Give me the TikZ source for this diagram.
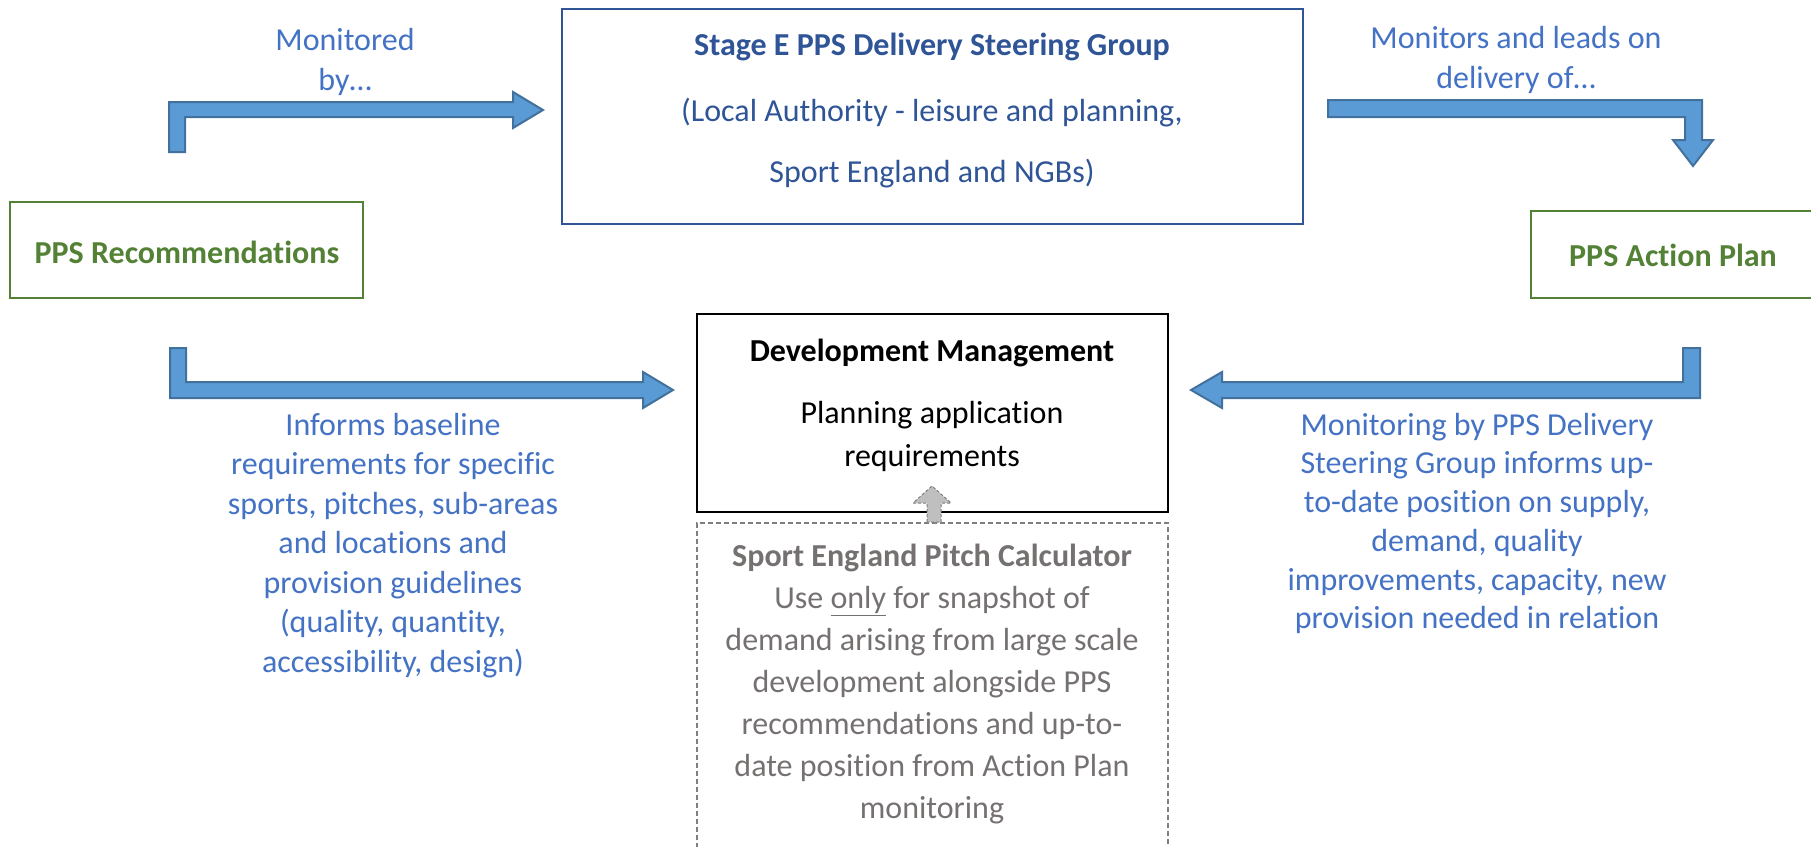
\documentclass[tikz,border=0pt]{standalone}
\usepackage{fontspec}
\setmainfont{Carlito}[Ligatures={NoCommon,NoContextual},RawFeature=-calt]
\definecolor{arrowfill}{HTML}{5B9BD5}
\definecolor{arrowline}{HTML}{41719C}
\definecolor{labelblue}{HTML}{4472C4}
\definecolor{darkblue}{HTML}{2F5597}
\definecolor{boxgreen}{HTML}{538135}
\definecolor{graytext}{HTML}{767171}
\definecolor{dashgray}{HTML}{7F7F7F}
\newcommand\myfs[1]{\fontsize{32}{#1}\selectfont}
\tikzset{
  blockarrow/.style={fill=arrowfill,draw=arrowline,line width=2pt,line join=miter},
  greybox/.style={draw=boxgreen,line width=2.5pt,minimum width=353pt,minimum height=96pt,inner sep=0pt},
  lbl/.style={text=labelblue,align=center,inner sep=0pt},
  txt/.style={inner sep=0pt,align=center}
}
\begin{document}
\begin{tikzpicture}[x=1pt,y=-1pt]
\useasboundingbox (0,0) rectangle (1811,846);
% boxes
\node[draw=darkblue,line width=2pt,minimum width=741pt,minimum height=215pt] (steer) at (932.5,116.5) {};
\node[txt,text=darkblue,font=\myfs{39}\bfseries] (steerT) at (932,47) {Stage E PPS Delivery Steering Group};
\node[txt,text=darkblue,font=\myfs{39}] (steerA) at (932,113) {(Local Authority - leisure and planning,};
\node[txt,text=darkblue,font=\myfs{39}] (steerB) at (932,174) {Sport England and NGBs)};

\node[greybox] (rec) at (186.5,250) {};
\node[txt,text=boxgreen,font=\myfs{39}\bfseries] (recT) at (187,252) {PPS Recommendations};
\node[greybox,minimum width=285pt,minimum height=87pt] (act) at (1673.5,254.5) {};
\node[txt,text=boxgreen,font=\myfs{39}\bfseries] (actT) at (1673,255) {PPS Action Plan};

\node[draw=black,line width=2.5pt,minimum width=471pt,minimum height=198pt] (dev) at (932.5,413) {};
\node[txt,font=\myfs{39}\bfseries] (devT) at (932,353) {Development Management};
\node[txt,font=\myfs{43}] (devB) at (932,436) {Planning application\\requirements};

\node[draw=dashgray,line width=1.5pt,dash pattern=on 5pt off 3pt,minimum width=471pt,minimum height=330pt,anchor=north] (calc) at (932.5,522) {};
\node[txt,text=graytext,font=\myfs{42}] (calcT) at (932,684) {\textbf{Sport England Pitch Calculator}\\Use \underline{only} for snapshot of\\demand arising from large scale\\development alongside PPS\\recommendations and up-to-\\date position from Action Plan\\monitoring};

% labels
\node[lbl,font=\myfs{40}] (l1) at (345,62) {Monitored\\by…};
\node[lbl,font=\myfs{40}] (l2) at (1516,60) {Monitors and leads on\\delivery of…};
\node[lbl,font=\myfs{39.5}] (l3) at (393,545.5) {Informs baseline\\requirements for specific\\sports, pitches, sub-areas\\and locations and\\provision guidelines\\(quality, quantity,\\accessibility, design)};
\node[lbl,font=\myfs{38.7}] (l4) at (1477,523.5) {Monitoring by PPS Delivery\\Steering Group informs up-\\to-date position on supply,\\demand, quality\\improvements, capacity, new\\provision needed in relation};

% block arrows
\draw[blockarrow] (169,152) -- (169,102) -- (513,102) -- (513,92) -- (543,110) -- (513,128) -- (513,117) -- (185,117) -- (185,152) -- cycle;
\draw[blockarrow] (1328,100) -- (1702,100) -- (1702,140) -- (1713,140) -- (1693,166) -- (1673,140) -- (1685,140) -- (1685,117) -- (1328,117) -- cycle;
\draw[blockarrow] (170,348) -- (186,348) -- (186,382) -- (643,382) -- (643,372) -- (673,390) -- (643,408) -- (643,398) -- (170,398) -- cycle;
\draw[blockarrow] (1700,348) -- (1683,348) -- (1683,382) -- (1222,382) -- (1222,372) -- (1191,390) -- (1222,408) -- (1222,398) -- (1700,398) -- cycle;
% grey arrow from calculator to development management
\draw[fill=gray!50,draw=dashgray,line width=1pt,dash pattern=on 3pt off 2pt] (927,522) -- (927,503) -- (913,503) -- (932,486) -- (951,503) -- (941,503) -- (941,522) -- cycle;
\end{tikzpicture}
\end{document}
